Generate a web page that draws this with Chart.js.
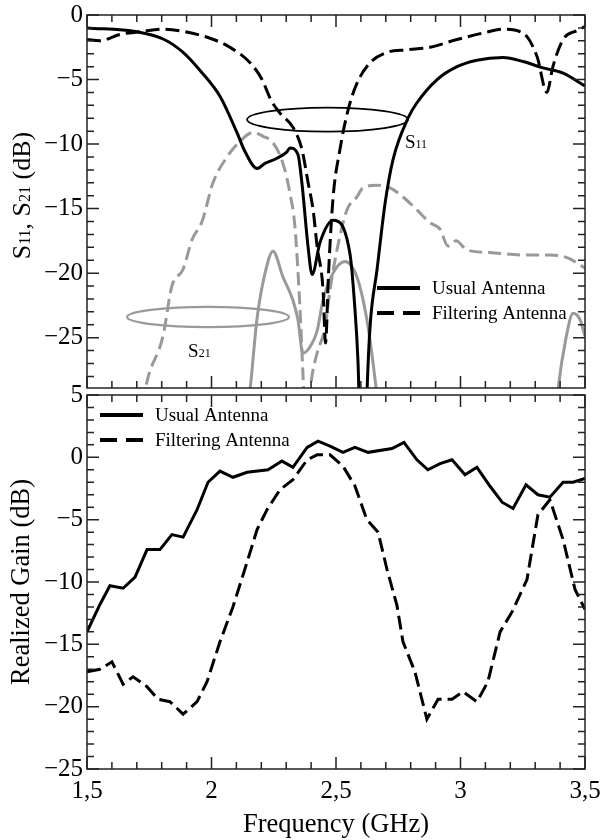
<!DOCTYPE html>
<html>
<head>
<meta charset="utf-8">
<script src="https://cdn.jsdelivr.net/npm/chart.js@4"></script>
<style>
  body { margin: 0; background: #fff; width: 603px; height: 840px; position: relative; overflow: hidden; }
  canvas { position: absolute; left: 0; }
  #top { top: 0; }
  #bottom { top: 380px; }
</style>
</head>
<body>
<canvas id="top" width="603" height="400"></canvas>
<canvas id="bottom" width="603" height="460"></canvas>
<script>
// top panel: S11 / S21 in dB against frequency in GHz
const s11UsualFreq = [1.50, 1.70, 1.81, 1.886, 1.954, 2.034, 2.102, 2.135, 2.183, 2.215, 2.263, 2.303, 2.315, 2.347, 2.363, 2.388, 2.404, 2.436, 2.488, 2.556, 2.575, 2.588, 2.61, 2.625, 2.637, 2.665, 2.697, 2.729, 2.789, 2.825, 2.906, 2.986, 3.066, 3.171, 3.251, 3.331, 3.412, 3.50];
const s11UsualDb = [-1.0, -1.3, -1.9, -2.9, -4.3, -6.3, -9.1, -10.6, -11.9, -11.5, -11.1, -10.6, -10.3, -10.8, -13.0, -18.0, -20.1, -17.6, -15.9, -18.5, -22.5, -26.7, -40, -29, -24.1, -19.7, -14.6, -11.2, -8.0, -6.8, -5.0, -4.0, -3.5, -3.3, -3.6, -4.1, -4.5, -5.5];

const s11FiltFreq = [1.50, 1.552, 1.633, 1.713, 1.805, 1.894, 1.994, 2.074, 2.155, 2.203, 2.239, 2.275, 2.327, 2.363, 2.388, 2.408, 2.424, 2.448, 2.458, 2.470, 2.488, 2.516, 2.548, 2.584, 2.637, 2.705, 2.785, 2.878, 2.986, 3.090, 3.171, 3.251, 3.307, 3.347, 3.371, 3.412, 3.468, 3.50];
const s11FiltDb = [-1.9, -2.0, -1.5, -1.3, -1.1, -1.3, -1.8, -2.5, -3.7, -5.0, -6.6, -7.6, -8.7, -10.4, -13.0, -15.1, -17.9, -21.3, -25.4, -20.0, -14.2, -10.4, -7.4, -5.3, -3.7, -2.9, -2.7, -2.5, -1.9, -1.4, -1.1, -1.4, -3.2, -6.0, -4.0, -1.9, -1.2, -0.9];

const s21UsualFreq = [2.12, 2.155, 2.183, 2.215, 2.247, 2.287, 2.327, 2.347, 2.367, 2.396, 2.424, 2.448, 2.488, 2.536, 2.584, 2.624, 2.649, 2.665, 2.69, 3.37, 3.392, 3.424, 3.452, 3.48, 3.50];
const s21UsualDb = [-34, -29, -23.5, -20.0, -18.3, -20.3, -22.1, -23.6, -26.2, -25.7, -24.5, -22.1, -20.0, -19.1, -20.3, -23.6, -27, -29.5, -34, -34, -29, -25, -23.1, -23.6, -24.9];

const s21FiltFreq = [1.70, 1.741, 1.805, 1.841, 1.886, 1.922, 1.962, 2.006, 2.062, 2.114, 2.167, 2.207, 2.247, 2.287, 2.315, 2.335, 2.355, 2.367, 2.38, 2.40, 2.424, 2.456, 2.476, 2.504, 2.544, 2.584, 2.608, 2.665, 2.717, 2.769, 2.825, 2.878, 2.918, 2.950, 2.982, 3.026, 3.118, 3.251, 3.359, 3.428, 3.50];
const s21FiltDb = [-33, -28.4, -24.9, -21.0, -19.7, -17.4, -16.0, -13.0, -11.0, -9.8, -9.1, -9.4, -9.9, -11.5, -13.8, -16.4, -22.6, -27.7, -33, -28.5, -26.2, -24.2, -21.3, -18.2, -15.1, -14.1, -13.4, -13.2, -13.4, -14.1, -15.1, -16.1, -16.6, -17.9, -17.5, -18.2, -18.4, -18.6, -18.6, -18.8, -19.6];

// bottom panel: realized gain in dB
const gainUsualFreq = [1.500, 1.552, 1.592, 1.645, 1.693, 1.741, 1.793, 1.841, 1.886, 1.942, 1.986, 2.034, 2.086, 2.143, 2.227, 2.283, 2.327, 2.384, 2.428, 2.476, 2.528, 2.576, 2.629, 2.725, 2.773, 2.825, 2.869, 2.918, 2.966, 3.018, 3.066, 3.118, 3.167, 3.211, 3.263, 3.311, 3.359, 3.412, 3.452, 3.500];
const gainUsualDb = [-14.0, -11.8, -10.3, -10.5, -9.6, -7.4, -7.4, -6.2, -6.4, -4.2, -2.0, -1.1, -1.6, -1.2, -1.0, -0.3, -0.8, 0.8, 1.3, 0.9, 0.4, 0.8, 0.4, 0.7, 1.2, -0.2, -1.0, -0.5, -0.2, -1.4, -0.8, -2.3, -3.6, -4.1, -2.2, -3.0, -3.2, -2.0, -2.0, -1.7];

const gainFiltFreq = [1.500, 1.552, 1.600, 1.645, 1.685, 1.741, 1.785, 1.833, 1.886, 1.942, 1.982, 2.034, 2.086, 2.143, 2.183, 2.223, 2.275, 2.327, 2.384, 2.424, 2.476, 2.528, 2.576, 2.624, 2.669, 2.705, 2.745, 2.769, 2.817, 2.865, 2.910, 2.966, 3.010, 3.066, 3.110, 3.159, 3.207, 3.267, 3.311, 3.359, 3.412, 3.460, 3.500];
const gainFiltDb = [-17.2, -17.0, -16.4, -18.2, -17.6, -18.4, -19.4, -19.6, -20.6, -19.6, -18.0, -14.8, -12.0, -8.4, -5.8, -4.2, -2.6, -1.8, -0.2, 0.2, 0.2, -0.7, -2.3, -5.0, -6.0, -9.0, -11.9, -14.8, -17.2, -21.0, -19.4, -19.4, -18.8, -19.6, -18.0, -14.0, -12.4, -9.8, -4.6, -3.4, -6.6, -10.6, -12.2];

const legendLabels = ['Usual Antenna', 'Filtering Antenna'];
const xTicks = [1.5, 2, 2.5, 3, 3.5];

// marker ellipses in data units (centre GHz / dB, half-width GHz / half-height dB)
const s11Ring = { f: 2.466, db: -8.1, df: 0.323, ddb: 0.93 };
const s21Ring = { f: 1.986, db: -23.4, df: 0.325, ddb: 0.78 };
const s11Tag = { f: 2.777, db: -10.3 };
const s21Tag = { f: 1.906, db: -26.5 };

const font = 'Liberation Serif';
const gray = '#999';
const pts = (fs, vs) => fs.map((f, i) => ({ x: f, y: vs[i] }));
const fmtY = v => (v < 0 ? '\u2212' + Math.abs(v) : String(v));
const fmtX = v => String(v).replace('.', ',');

function drawParts(ctx, x, y, parts) {
  let cx = x;
  for (const [t, size, dy] of parts) {
    ctx.font = `${size}px "${font}"`;
    ctx.fillText(t, cx, y + dy);
    cx += ctx.measureText(t).width;
  }
  return cx - x;
}

function partsWidth(ctx, parts) {
  let w = 0;
  for (const [t, size] of parts) {
    ctx.font = `${size}px "${font}"`;
    w += ctx.measureText(t).width;
  }
  return w;
}

// box + inward tick marks on all four sides
const frame = {
  id: 'frame',
  afterDatasetsDraw(chart) {
    const { ctx, chartArea: a, scales: { x, y } } = chart;
    ctx.save();
    ctx.strokeStyle = '#222';
    ctx.lineWidth = 1.5;
    ctx.beginPath();
    for (let i = 0; i <= 20; i++) {
      const px = x.getPixelForValue(1.5 + i * 0.1);
      const len = i % 5 === 0 ? 12 : 7;
      ctx.moveTo(px, a.top); ctx.lineTo(px, a.top + len);
      ctx.moveTo(px, a.bottom); ctx.lineTo(px, a.bottom - len);
    }
    for (let v = Math.ceil(y.min); v <= y.max; v++) {
      const py = y.getPixelForValue(v);
      const len = v % 5 === 0 ? 12 : 7;
      ctx.moveTo(a.left, py); ctx.lineTo(a.left + len, py);
      ctx.moveTo(a.right, py); ctx.lineTo(a.right - len, py);
    }
    ctx.stroke();
    ctx.strokeRect(a.left, a.top, a.width, a.height);
    ctx.restore();
  }
};

const legendBox = {
  id: 'legendBox',
  afterDraw(chart, args, o) {
    const { ctx, chartArea: a } = chart;
    o.items.forEach((idx, k) => {
      const ds = chart.data.datasets[idx];
      const y = a.top + o.top + k * o.gap;
      const x0 = a.left + o.left;
      ctx.save();
      ctx.strokeStyle = ds.borderColor;
      ctx.lineWidth = 4;
      ctx.setLineDash(ds.borderDash ? [17, 9] : []);
      ctx.beginPath(); ctx.moveTo(x0, y); ctx.lineTo(x0 + 43, y); ctx.stroke();
      ctx.setLineDash([]);
      ctx.fillStyle = '#000';
      ctx.font = `19px "${font}"`;
      ctx.textBaseline = 'middle';
      ctx.fillText(legendLabels[k], x0 + 55, y + 1);
      ctx.restore();
    });
  }
};

const notes = {
  id: 'notes',
  afterDatasetsDraw(chart) {
    const { ctx, chartArea: a, scales: { x, y } } = chart;
    ctx.save();
    [[s11Ring, '#000', 1.8], [s21Ring, gray, 2.2]].forEach(([r, c, w]) => {
      const cx = x.getPixelForValue(r.f), cy = y.getPixelForValue(r.db);
      const rx = x.getPixelForValue(r.f + r.df) - cx;
      const ry = y.getPixelForValue(r.db - r.ddb) - cy;
      ctx.beginPath();
      ctx.ellipse(cx, cy, rx, ry, 0, 0, Math.PI * 2);
      ctx.strokeStyle = c; ctx.lineWidth = w; ctx.stroke();
    });
    ctx.fillStyle = '#000';
    ctx.textBaseline = 'alphabetic';
    drawParts(ctx, x.getPixelForValue(s11Tag.f), y.getPixelForValue(s11Tag.db), [['S', 19, 0], ['11', 12, 0]]);
    drawParts(ctx, x.getPixelForValue(s21Tag.f), y.getPixelForValue(s21Tag.db), [['S', 19, 0], ['21', 12, 0]]);

    // y axis title with subscripts
    const parts = [['S', 26, 0], ['11', 16, 0], [', S', 26, 0], ['21', 16, 0], [' (dB)', 26, 0]];
    const w = partsWidth(ctx, parts);
    ctx.translate(30, (a.top + a.bottom) / 2 - 6);
    ctx.rotate(-Math.PI / 2);
    drawParts(ctx, -w / 2, 0, parts);
    ctx.restore();
  }
};

const tickFont = { family: font, size: 25 };
const titleFont = { family: font, size: 26.5, lineHeight: 1.05 };

new Chart(document.getElementById('top'), {
  type: 'line',
  data: {
    datasets: [
      { label: 'S11 usual', data: pts(s11UsualFreq, s11UsualDb), borderColor: '#000' },
      { label: 'S11 filtering', data: pts(s11FiltFreq, s11FiltDb), borderColor: '#000', borderDash: [14, 6] },
      { label: 'S21 usual', data: pts(s21UsualFreq, s21UsualDb), borderColor: gray },
      { label: 'S21 filtering', data: pts(s21FiltFreq, s21FiltDb), borderColor: gray, borderDash: [13, 6] }
    ]
  },
  options: {
    responsive: false,
    animation: false,
    layout: { padding: { top: 15, right: 18, bottom: 12, left: 0 } },
    elements: {
      point: { radius: 0 },
      line: { borderWidth: 3, cubicInterpolationMode: 'monotone', fill: false }
    },
    plugins: {
      legend: { display: false },
      tooltip: { enabled: false },
      legendBox: { items: [0, 1], left: 290, top: 273, gap: 25 }
    },
    scales: {
      x: {
        type: 'linear', min: 1.5, max: 3.5,
        ticks: { display: false },
        grid: { display: false, drawTicks: false },
        border: { display: false },
        afterFit: s => { s.height = 0; s.paddingLeft = 0; s.paddingRight = 0; }
      },
      y: {
        min: -28.9, max: 0,
        ticks: { stepSize: 5, includeBounds: false, padding: 4, color: '#000', font: tickFont, callback: fmtY },
        grid: { display: false, drawTicks: false },
        border: { display: false },
        afterFit: s => { s.width = 87; s.paddingTop = 0; s.paddingBottom = 0; }
      }
    }
  },
  plugins: [frame, notes, legendBox]
});

new Chart(document.getElementById('bottom'), {
  type: 'line',
  data: {
    datasets: [
      { label: 'Usual Antenna', data: pts(gainUsualFreq, gainUsualDb), borderColor: '#000' },
      { label: 'Filtering Antenna', data: pts(gainFiltFreq, gainFiltDb), borderColor: '#000', borderDash: [14, 6] }
    ]
  },
  options: {
    responsive: false,
    animation: false,
    layout: { padding: { top: 15, right: 18, bottom: 0, left: 0 } },
    elements: {
      point: { radius: 0 },
      line: { borderWidth: 3, tension: 0, fill: false, borderJoinStyle: 'miter' }
    },
    plugins: {
      legend: { display: false },
      tooltip: { enabled: false },
      legendBox: { items: [0, 1], left: 13, top: 20, gap: 25 }
    },
    scales: {
      x: {
        type: 'linear', min: 1.5, max: 3.5,
        afterBuildTicks: s => { s.ticks = xTicks.map(v => ({ value: v })); },
        ticks: { padding: 7, color: '#000', font: tickFont, callback: fmtX, maxRotation: 0 },
        grid: { display: false, drawTicks: false },
        border: { display: false },
        title: { display: true, text: 'Frequency (GHz)', color: '#000', font: titleFont, padding: { top: 0, bottom: 1 } },
        afterFit: s => { s.height = 71; s.paddingLeft = 0; s.paddingRight = 0; }
      },
      y: {
        min: -25, max: 5,
        ticks: { stepSize: 5, padding: 4, color: '#000', font: tickFont, callback: fmtY },
        grid: { display: false, drawTicks: false },
        border: { display: false },
        title: { display: true, text: 'Realized Gain (dB)', color: '#000', font: titleFont, padding: { top: 8, bottom: 0 } },
        afterFit: s => { s.width = 87; s.paddingTop = 0; s.paddingBottom = 0; }
      }
    }
  },
  plugins: [frame, legendBox]
});
</script>
</body>
</html>
